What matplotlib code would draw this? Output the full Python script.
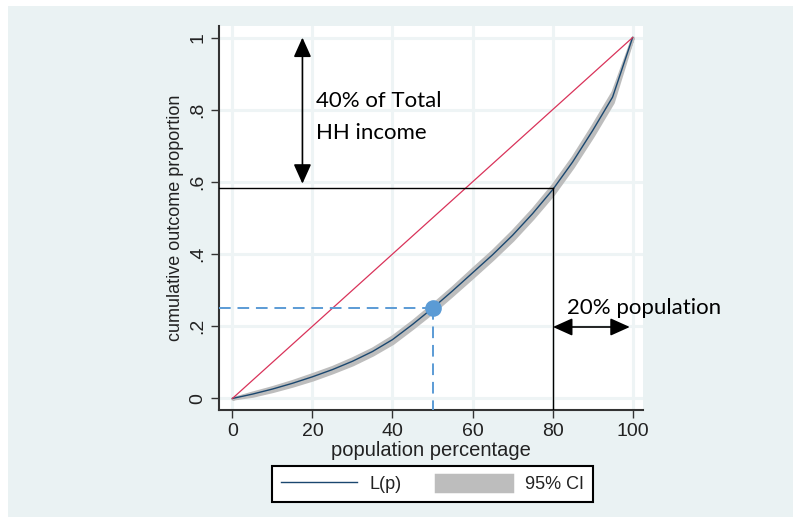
import matplotlib.pyplot as plt
from matplotlib.patches import Rectangle

# population share (%) and Lorenz curve of household income
pop = [0, 5, 10, 15, 20, 25, 30, 35, 40, 45, 50, 55, 60, 65, 70, 75, 80, 85, 90, 95, 100]
lorenz = [0, 0.012, 0.026, 0.042, 0.060, 0.080, 0.103, 0.130, 0.163, 0.205, 0.25, 0.298,
          0.348, 0.398, 0.452, 0.512, 0.578, 0.655, 0.742, 0.835, 1.0]
ci_half = [0, 0.004, 0.005, 0.006, 0.007, 0.007, 0.008, 0.008, 0.009, 0.009, 0.010, 0.010,
           0.011, 0.011, 0.012, 0.012, 0.013, 0.013, 0.014, 0.014, 0.0]
equality = [0, 100]
equality_y = [0, 1]

x_ticks = [0, 20, 40, 60, 80, 100]
y_ticks = [0, 0.2, 0.4, 0.6, 0.8, 1.0]
y_tick_labels = ['0', '.2', '.4', '.6', '.8', '1']

# annotation values
point_x, point_y = 50, 0.25
cut_x, cut_y = 80, 0.583

bg = '#eaf2f3'
navy = '#1a476f'
blue = '#5b9bd5'

plt.rcParams['font.family'] = ['Liberation Sans', 'DejaVu Sans']

fig = plt.figure(figsize=(7.93, 5.17), dpi=100, facecolor='white')
fig.patches.append(Rectangle((8 / 793, 0), 1, 1 - 6 / 517, transform=fig.transFigure,
                             facecolor=bg, edgecolor='none', zorder=-10))
ax = fig.add_axes([219 / 793, 1 - 410 / 517, 424 / 793, 384 / 517])
ax.set_facecolor('white')

lo = [v - h for v, h in zip(lorenz, ci_half)]
hi = [v + h for v, h in zip(lorenz, ci_half)]
band = ax.fill_between(pop, lo, hi, color='#bdbdbd', lw=2.5, edgecolor='#bdbdbd', label='95% CI', zorder=2)
line, = ax.plot(pop, lorenz, color=navy, lw=1.0, label='L(p)', zorder=3)
ax.plot(equality, equality_y, color='#d9335a', lw=0.9, zorder=3)

# black guide lines at 80% population
ax.plot([-3.35, cut_x], [cut_y, cut_y], color='black', lw=1.0, zorder=4)
ax.plot([cut_x, cut_x], [cut_y, -0.032], color='black', lw=1.0, zorder=4)

# blue dashed guide lines and point
ax.plot([-3.35, point_x], [point_y, point_y], color=blue, lw=1.4, dashes=(6, 3.5), zorder=4)
ax.plot([point_x, point_x], [point_y, -0.032], color=blue, lw=1.4, dashes=(6, 3.5), zorder=4)
ax.scatter([point_x], [point_y], s=120, color=blue, zorder=5)

arrow = dict(arrowstyle='<|-|>,head_length=0.6,head_width=0.27', color='black', lw=1.2,
             shrinkA=0, shrinkB=0, mutation_scale=20)
ax.annotate('', xy=(17.5, 1.0), xytext=(17.5, 0.595), arrowprops=arrow, zorder=6)
ax.annotate('', xy=(80.1, 0.198), xytext=(99.3, 0.198), arrowprops=arrow, zorder=6)

ax.text(20.8, 0.78, '40% of Total\nHH income', fontsize=16, family=['Lato', 'DejaVu Sans'],
        linespacing=1.8, va='center', ha='left', zorder=6)
ax.text(83.5, 0.25, '20% population', fontsize=16, family=['Lato', 'DejaVu Sans'],
        va='center', ha='left', zorder=6, clip_on=False)

ax.set_xlim(-3.35, 102.6)
ax.set_ylim(-0.032, 1.032)
ax.set_xticks(x_ticks)
ax.set_yticks(y_ticks)
ax.set_yticklabels(y_tick_labels, rotation=90, va='center')
ax.grid(True, color='#eef4f5', lw=2.2, zorder=0)
ax.set_axisbelow(True)

for s in ['top', 'right']:
    ax.spines[s].set_visible(False)
for s in ['left', 'bottom']:
    ax.spines[s].set_color('#333333')
    ax.spines[s].set_linewidth(1.5)
ax.tick_params(axis='both', direction='out', length=6, width=1, color='#333333',
               labelsize=14, labelcolor='#222222', pad=3)

ax.set_xlabel('population percentage', fontsize=14.5, color='#222222', labelpad=1)
ax.set_ylabel('cumulative outcome proportion', fontsize=13, color='#222222', labelpad=4)

leg = fig.legend([line, band], ['L(p)', '95% CI'], loc='center',
                 bbox_to_anchor=(432.5 / 793, 1 - 483.7 / 517), ncol=2,
                 fontsize=13, frameon=True, fancybox=False, edgecolor='black',
                 facecolor='white', framealpha=1, handlelength=4.2, handleheight=1.0,
                 handletextpad=0.7, columnspacing=1.9, borderpad=0.5)
leg.get_frame().set_linewidth(1.5)
for t in leg.get_texts():
    t.set_color('#222222')

fig.savefig('out.png', dpi=100, facecolor=fig.get_facecolor())
